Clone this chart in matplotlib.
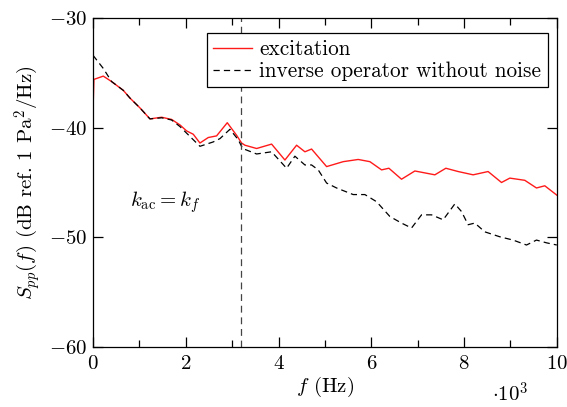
import matplotlib
matplotlib.use("Agg")
import matplotlib.pyplot as plt
from matplotlib.ticker import MultipleLocator, FuncFormatter

plt.rcParams['font.family'] = 'serif'
plt.rcParams['font.serif'] = ['cmr10']
plt.rcParams['mathtext.fontset'] = 'cm'
plt.rcParams['axes.formatter.use_mathtext'] = True
plt.rcParams['axes.unicode_minus'] = True

# ---------- data ----------
f_exc = [0, 20, 222, 402, 654, 797, 1013, 1228, 1480, 1695, 1875, 2019, 2162, 2306,
         2485, 2665, 2895, 3097, 3204, 3276, 3528, 3851, 4138, 4390, 4569, 4713,
         5037, 5395, 5718, 5970, 6222, 6380, 6652, 6940, 7371, 7608, 7873, 8196,
         8519, 8808, 8987, 9310, 9562, 9741, 10000]
s_exc = [-38.5, -35.6, -35.3, -35.8, -36.6, -37.3, -38.2, -39.2, -39.05, -39.25, -39.75,
         -40.3, -40.6, -41.4, -40.9, -40.75, -39.55, -40.7, -41.4, -41.6, -41.9, -41.5,
         -42.95, -41.6, -42.2, -41.95, -43.55, -43.1, -42.9, -43.1, -43.85, -43.7,
         -44.7, -43.95, -44.3, -43.7, -44.0, -44.3, -44.0, -45.0, -44.6, -44.8, -45.5,
         -45.3, -46.15]

f_inv = [0, 222, 402, 654, 797, 1013, 1228, 1480, 1695, 1875, 2090, 2306, 2593, 2737,
         2952, 3132, 3226, 3528, 3851, 4174, 4353, 4569, 4713, 4856, 5037, 5252, 5610,
         5862, 6114, 6401, 6652, 6868, 7084, 7300, 7550, 7802, 7946, 8088, 8233, 8448,
         8772, 9058, 9347, 9562, 9778, 10000]
s_inv = [-33.4, -34.6, -35.8, -36.6, -37.3, -38.2, -39.2, -39.1, -39.3, -39.9, -40.8,
         -41.7, -41.3, -41.0, -40.15, -41.1, -41.9, -42.4, -42.2, -43.7, -42.6, -43.4,
         -43.4, -43.85, -45.05, -45.5, -46.1, -46.1, -46.75, -48.1, -48.7, -49.15,
         -47.95, -47.95, -48.4, -46.95, -47.65, -48.85, -48.7, -49.5, -49.95, -50.25,
         -50.7, -50.25, -50.5, -50.7]

f_cut = 3200

fs = 15
fig = plt.figure(figsize=(5.67, 4.07), dpi=100)
ax = fig.add_axes([0.164, 0.1474, 0.818, 0.8084])

ax.plot(f_exc, s_exc, color='#ff1a1a', lw=1.0, label='excitation')
ax.plot(f_inv, s_inv, color='black', lw=0.9, ls=(0, (5, 3.3)), label='inverse operator without noise')
ax.axvline(f_cut, color='#444444', lw=0.9, ls=(0, (5.5, 3.8)))

ax.text(1550, -46.8, r'$k_{\mathrm{ac}} = k_f$', fontsize=fs, ha='center', va='center')

ax.set_xlim(0, 10000)
ax.set_ylim(-60, -30)
ax.xaxis.set_major_locator(MultipleLocator(2000))
ax.xaxis.set_minor_locator(MultipleLocator(1000))
ax.yaxis.set_major_locator(MultipleLocator(10))
ax.xaxis.set_major_formatter(FuncFormatter(lambda v, p: r'$%d$' % round(v / 1000)))
ax.yaxis.set_major_formatter(FuncFormatter(lambda v, p: r'$%d$' % v))
ax.tick_params(which='both', direction='in', top=True, right=True, labelsize=fs, width=0.9)
ax.tick_params(which='major', length=7)
ax.tick_params(which='minor', length=5)
ax.tick_params(axis='x', which='major', pad=6)
ax.tick_params(axis='y', which='major', pad=4.5)
for sp in ax.spines.values():
    sp.set_linewidth(0.9)

ax.set_xlabel(r'$f$ (Hz)', fontsize=fs, labelpad=1)
ax.set_ylabel(r'$S_{pp}(f)$ (dB ref. 1 Pa$^2$/Hz)', fontsize=fs, labelpad=4)
fig.text(0.9, 0.004, r'$\cdot 10^3$', fontsize=fs, ha='center', va='bottom')

leg = ax.legend(loc='upper right', bbox_to_anchor=(0.9806, 0.954), fontsize=15.3,
                fancybox=False, framealpha=1, edgecolor='black', borderaxespad=0,
                handlelength=1.84, handletextpad=0.33, borderpad=0.3, labelspacing=0.12)
leg.get_frame().set_linewidth(0.9)

plt.savefig('out.png', dpi=100)
